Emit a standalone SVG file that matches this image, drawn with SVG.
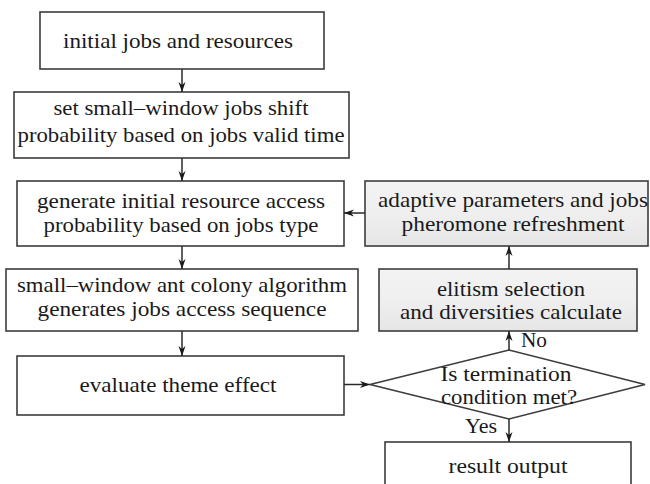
<svg xmlns="http://www.w3.org/2000/svg" width="650" height="484" viewBox="0 0 650 484">
<style>
.box{fill:#ffffff;stroke:#3c3c3c;stroke-width:1.6}
.gbox{fill:url(#g);stroke:#3c3c3c;stroke-width:1.6}
.t text{font-family:'Liberation Serif','Tinos','DejaVu Serif','Noto Serif','FreeSerif','Times New Roman',Times,serif;font-size:22px;fill:#1a1a1a;text-anchor:middle}
.t .lbl{text-anchor:start}
.t .dia{font-size:20px}
.conn line{stroke:#2a2a2a;stroke-width:1.5;marker-end:url(#ah)}
</style>
<defs>
<linearGradient id="g" x1="0" y1="0" x2="0" y2="1">
<stop offset="0" stop-color="#f3f3f3"/>
<stop offset="0.5" stop-color="#efefef"/>
<stop offset="1" stop-color="#e6e6e6"/>
</linearGradient>
<marker id="ah" markerUnits="userSpaceOnUse" markerWidth="11" markerHeight="8" refX="10" refY="4" orient="auto" viewBox="0 0 11 8">
<path d="M0,0.5 L10,4 L0,7.5 L3,4 z" fill="#1a1a1a"/>
</marker>
</defs>
<rect width="650" height="484" fill="#ffffff"/>
<g class="t">
<g id="n1">
<rect class="box" x="40" y="12" width="284" height="57"/>
<text x="178" y="48" textLength="230" lengthAdjust="spacingAndGlyphs">initial jobs and resources</text>
</g>
<g id="n2">
<rect class="box" x="14" y="92" width="335" height="66"/>
<text x="181" y="115" textLength="255" lengthAdjust="spacingAndGlyphs">set small–window jobs shift</text>
<text x="181" y="142" textLength="327" lengthAdjust="spacingAndGlyphs">probability based on jobs valid time</text>
</g>
<g id="n3">
<rect class="box" x="17" y="181" width="327" height="65"/>
<text x="181" y="208" textLength="288" lengthAdjust="spacingAndGlyphs">generate initial resource access</text>
<text x="181" y="232" textLength="275" lengthAdjust="spacingAndGlyphs">probability based on jobs type</text>
</g>
<g id="n4">
<rect class="box" x="6" y="269" width="352" height="62"/>
<text x="182" y="292" textLength="330" lengthAdjust="spacingAndGlyphs">small–window ant colony algorithm</text>
<text x="182" y="316" textLength="289" lengthAdjust="spacingAndGlyphs">generates jobs access sequence</text>
</g>
<g id="n5">
<rect class="box" x="17" y="356" width="327" height="59"/>
<text x="178" y="392" textLength="197" lengthAdjust="spacingAndGlyphs">evaluate theme effect</text>
</g>
<g id="n6">
<rect class="gbox" x="365" y="181" width="283" height="65"/>
<text x="513" y="207" textLength="270" lengthAdjust="spacingAndGlyphs">adaptive parameters and jobs</text>
<text x="513" y="231" textLength="223" lengthAdjust="spacingAndGlyphs">pheromone refreshment</text>
</g>
<g id="n7">
<rect class="gbox" x="379" y="269" width="258" height="62"/>
<text x="511" y="296" textLength="148" lengthAdjust="spacingAndGlyphs">elitism selection</text>
<text x="511" y="319" textLength="222" lengthAdjust="spacingAndGlyphs">and diversities calculate</text>
</g>
<g id="n8">
<polygon class="box" points="370,384.5 509,350 645,384.5 509,419"/>
<text class="dia" x="506" y="381" textLength="131" lengthAdjust="spacingAndGlyphs">Is termination</text>
<text class="dia" x="509" y="404" textLength="136" lengthAdjust="spacingAndGlyphs">condition met?</text>
</g>
<g id="n9">
<rect class="box" x="385" y="442" width="246" height="50"/>
<text x="508" y="473" textLength="119" lengthAdjust="spacingAndGlyphs">result output</text>
</g>
<g id="connectors" class="conn">
<line x1="182" y1="69" x2="182" y2="92"/>
<line x1="182" y1="158" x2="182" y2="181"/>
<line x1="182" y1="246" x2="182" y2="269"/>
<line x1="182" y1="331" x2="182" y2="356"/>
<line x1="344" y1="384.5" x2="370" y2="384.5"/>
<line x1="509" y1="350" x2="509" y2="331"/>
<line x1="509" y1="269" x2="509" y2="246"/>
<line x1="365" y1="213" x2="344" y2="213"/>
<line x1="509" y1="419" x2="509" y2="442"/>
</g>
<g id="labels">
<text class="lbl" x="521" y="347" textLength="26" lengthAdjust="spacingAndGlyphs">No</text>
<text class="lbl" x="465" y="433" textLength="32" lengthAdjust="spacingAndGlyphs">Yes</text>
</g>
</g>
</svg>
